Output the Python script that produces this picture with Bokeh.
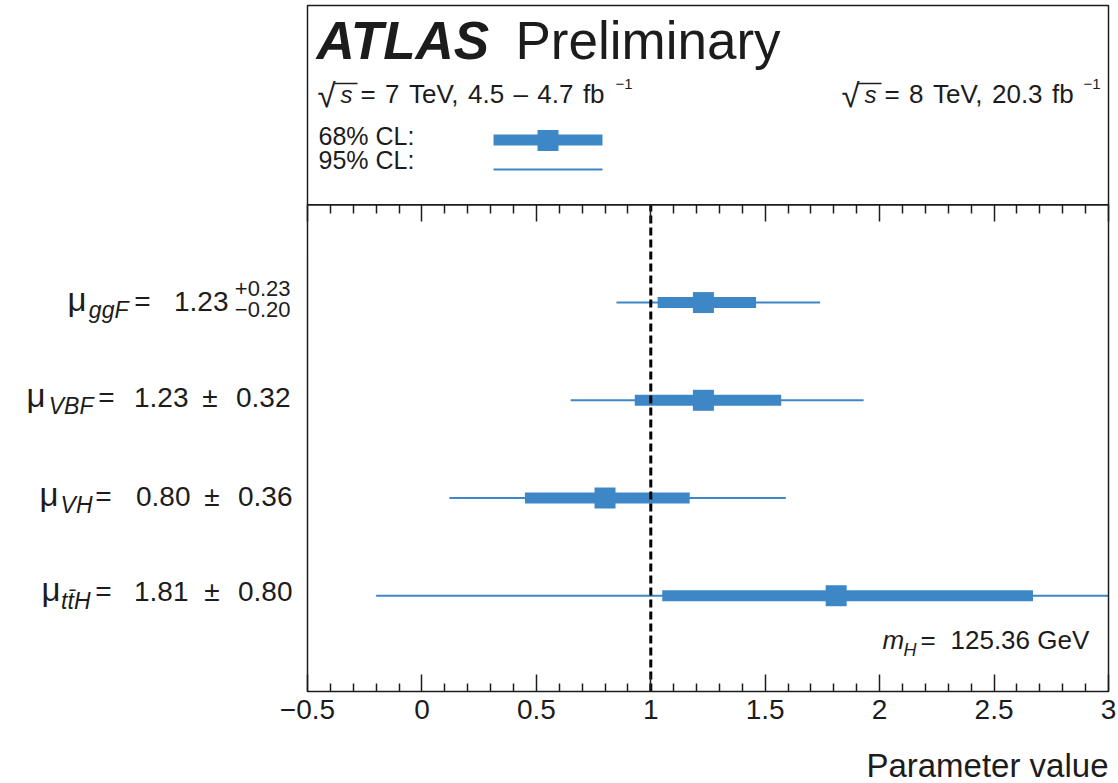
from bokeh.plotting import figure
from bokeh.models import Range1d, LinearAxis, FixedTicker, Label, BoxAnnotation
from bokeh.embed import file_html
from bokeh.resources import INLINE

# ---------------- data ----------------
processes = ["ggF", "VBF", "VH", "tt\u0304H"]
mu = [1.23, 1.23, 0.80, 1.81]
err_up = [0.23, 0.32, 0.36, 0.80]
err_dn = [0.20, 0.32, 0.36, 0.80]
ci68_lo = [1.03, 0.93, 0.45, 1.05]
ci68_hi = [1.46, 1.57, 1.17, 2.67]
ci95_lo = [0.85, 0.65, 0.12, -0.20]
ci95_hi = [1.74, 1.93, 1.59, 3.30]
row_y = [4, 3, 2, 1]
x_ticks = [-0.5, 0, 0.5, 1, 1.5, 2, 2.5, 3]
x_tick_labels = ["\u22120.5", "0", "0.5", "1", "1.5", "2", "2.5", "3"]
x_minor_ticks = [-0.4, -0.3, -0.2, -0.1, 0.1, 0.2, 0.3, 0.4, 0.6, 0.7, 0.8, 0.9,
                 1.1, 1.2, 1.3, 1.4, 1.6, 1.7, 1.8, 1.9, 2.1, 2.2, 2.3, 2.4,
                 2.6, 2.7, 2.8, 2.9]
ref_value = 1.0
m_H = 125.36
x_title = "Parameter value"

# ---------------- layout ----------------
W, H = 1118, 783
BOX_L, BOX_R, BOX_T, BOX_B = 307, 1108, 5, 691     # the drawn plot box (px)
X0, X1 = -0.5, 3.0
Y0, Y1 = 0.02, 7.04
DIVIDER = 5.0
PPX = (BOX_R - BOX_L) / (X1 - X0)
PPY = (BOX_B - BOX_T) / (Y1 - Y0)


def dx(px):
    return X0 + (px - BOX_L) / PPX


def dy(py):
    return Y0 + (BOX_B - py) / PPY


BLUE = "#3e87c7"
INK = "#1c1c1c"
FONT = "Liberation Sans"

# the bokeh frame covers the whole canvas; the plot box is drawn explicitly
p = figure(width=W, height=H, output_backend="svg", toolbar_location=None,
           x_range=Range1d(dx(0), dx(W)), y_range=Range1d(dy(H), dy(0)),
           x_axis_type=None, y_axis_type=None,
           min_border_left=0, min_border_right=0, min_border_top=0, min_border_bottom=0)
p.background_fill_color = "white"
p.border_fill_color = "white"
p.outline_line_color = None
p.xgrid.visible = False
p.ygrid.visible = False

# plot boxes
for lo, hi in [(Y0, DIVIDER), (DIVIDER, Y1)]:
    p.add_layout(BoxAnnotation(left=X0, right=X1, bottom=lo, top=hi,
                               fill_color=None, line_color=INK, line_alpha=1.0,
                               line_width=1.5))

ticker = FixedTicker(ticks=x_ticks, minor_ticks=x_minor_ticks)
bottom_axis = LinearAxis(ticker=ticker, fixed_location=Y0,
                         major_label_overrides={t: l for t, l in zip(x_ticks, x_tick_labels)},
                         major_tick_in=17, major_tick_out=0,
                         minor_tick_in=8, minor_tick_out=0,
                         major_tick_line_width=1.5, minor_tick_line_width=1.5,
                         major_tick_line_color=INK, minor_tick_line_color=INK,
                         axis_line_color=None, major_label_standoff=8,
                         major_label_text_font=FONT, major_label_text_font_size="28px",
                         major_label_text_color=INK)
p.add_layout(bottom_axis, "below")

top_axis = LinearAxis(ticker=ticker, fixed_location=DIVIDER,
                      major_tick_in=17, major_tick_out=0,
                      minor_tick_in=9, minor_tick_out=0,
                      major_tick_line_width=1.5, minor_tick_line_width=1.5,
                      major_tick_line_color=INK, minor_tick_line_color=INK,
                      axis_line_color=None, major_label_text_color=None)
p.add_layout(top_axis, "above")

# ---------------- data marks ----------------
ci95_hi_drawn = [min(v, X1) for v in ci95_hi]   # 95% interval runs past the axis end
ci95_lo_drawn = [max(v, X0) for v in ci95_lo]
p.segment(x0=ci95_lo_drawn, y0=row_y, x1=ci95_hi_drawn, y1=row_y,
          line_color=BLUE, line_width=2)
p.segment(x0=ci68_lo, y0=row_y, x1=ci68_hi, y1=row_y, line_color=BLUE, line_width=11)
p.scatter(x=mu, y=row_y, marker="square", size=21, fill_color=BLUE, line_color=None)

p.segment(x0=[ref_value], y0=[Y0], x1=[ref_value], y1=[DIVIDER],
          line_color="black", line_width=3, line_dash="8 4")


# ---------------- texts ----------------
def put(text, px, base_px, size, style="normal", align="left"):
    p.add_layout(Label(x=dx(px), y=dy(base_px - 0.4 * size), text=text,
                       text_font=FONT, text_font_size=f"{size}px",
                       text_font_style=style, text_align=align,
                       text_baseline="alphabetic", text_color=INK))


put("ATLAS", 316, 61, 53, "bold italic")
put("Preliminary", 515, 61, 53)

SP = " \u200a"
put("\u221a", 317, 108, 33)
put("s", 340, 104, 24, "italic")
put(SP.join(["=", "7", "TeV,", "4.5", "\u2013", "4.7", "fb"]), 360, 104, 26)
put("\u22121", 632, 89, 15, align="right")
p.segment(x0=[dx(334)], y0=[dy(83)], x1=[dx(357)], y1=[dy(83)], line_color=INK, line_width=1.5)

put("\u221a", 841, 108, 33)
put("s", 864, 104, 24, "italic")
put(SP.join(["=", "8", "TeV,", "20.3", "fb"]), 884, 104, 26)
put("\u22121", 1100, 89, 15, align="right")
p.segment(x0=[dx(858)], y0=[dy(83)], x1=[dx(881)], y1=[dy(83)], line_color=INK, line_width=1.5)

put("68% CL:", 318, 145, 25)
put("95% CL:", 318, 169, 25)
# legend keys
p.segment(x0=[dx(493)], y0=[dy(139.5)], x1=[dx(602)], y1=[dy(139.5)],
          line_color=BLUE, line_width=11)
p.scatter(x=[dx(547.5)], y=[dy(140)], marker="square", size=21,
          fill_color=BLUE, line_color=None)
p.segment(x0=[dx(493)], y0=[dy(169)], x1=[dx(602)], y1=[dy(169)],
          line_color=BLUE, line_width=2)

put("m", 882, 650, 26, "italic")
put("H", 903, 657, 18, "italic")
put("=", 920, 650, 26)
put(f"{m_H:.2f} GeV", 950, 650, 26)

put(x_title, BOX_R, 778, 33, align="right")

# row labels: right edges (px) of each piece and baselines relative to row centre (px)
mu_right = [86, 45, 58, 60]
sub_right = [128, 93, 92, 90]
eq_right = [150, 114, 111, 111]
val_right = [228, 188, 190, 188]
pm_right = [None, 217, 219, 219]
err_right = [290, 290, 292, 292]
base_rel = [10, 8, 9.5, 7]


def put_row(text, right_px, i, rel, size, style="normal"):
    p.add_layout(Label(x=dx(right_px), y=row_y[i] - (rel - 0.4 * size) / PPY,
                       text=text, text_font=FONT, text_font_size=f"{size}px",
                       text_font_style=style, text_align="right",
                       text_baseline="alphabetic", text_color=INK))


for i, proc in enumerate(processes):
    b = base_rel[i]
    put_row("\u03bc", mu_right[i], i, b, 33)
    put_row(proc, sub_right[i], i, b + 7, 23, "italic")
    put_row("=", eq_right[i], i, b, 28)
    put_row(f"{mu[i]:.2f}", val_right[i], i, b, 28)
    if err_up[i] != err_dn[i]:
        put_row(f"+{err_up[i]:.2f}", err_right[i], i, b - 15, 22)
        put_row(f"\u2212{err_dn[i]:.2f}", err_right[i], i, b + 6, 22)
    else:
        put_row("\u00b1", pm_right[i], i, b, 28)
        put_row(f"{err_up[i]:.2f}", err_right[i], i, b, 28)

open("out.html", "w").write(file_html(p, INLINE))
